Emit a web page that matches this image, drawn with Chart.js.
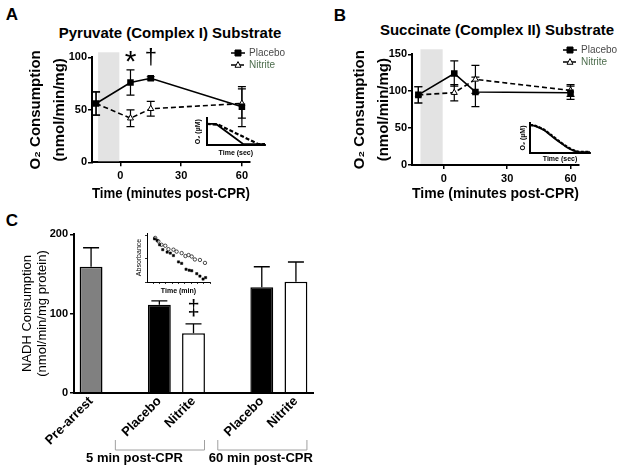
<!DOCTYPE html>
<html>
<head>
<meta charset="utf-8">
<title>O2 and NADH consumption after CPR</title>
<script src="https://cdn.jsdelivr.net/npm/chart.js@4.4.1/dist/chart.umd.min.js"></script>
<style>
  body { margin: 0; width: 624px; height: 471px; position: relative; overflow: hidden; background: #fff;
         font-family: "Liberation Sans", Arial, sans-serif; }
  canvas { position: absolute; }
  .txt { position: absolute; transform: translate(-50%, -50%); white-space: nowrap; line-height: 1;
         font-weight: bold; color: #000; }
</style>
</head>
<body>
<div class="txt" style="left:12px;top:14px;font-size:17px">A</div>
<div class="txt" style="left:340px;top:15px;font-size:17px">B</div>
<div class="txt" style="left:12px;top:220px;font-size:17px">C</div>
<div class="txt" style="left:170px;top:32px;font-size:15px">Pyruvate (Complex I) Substrate</div>
<div class="txt" style="left:497px;top:29px;font-size:15px">Succinate (Complex II) Substrate</div>

<canvas id="chartA" width="300" height="205" style="left:0;top:0"></canvas>
<canvas id="chartB" width="294" height="205" style="left:330px;top:0"></canvas>
<canvas id="chartC" width="330" height="271" style="left:0;top:200px"></canvas>
<canvas id="insetA" width="82" height="46" style="left:188px;top:112px"></canvas>
<canvas id="insetB" width="82" height="48" style="left:512px;top:117px"></canvas>
<canvas id="insetC" width="95" height="76" style="left:122px;top:222px"></canvas>

<script>
Chart.defaults.font.family = '"Liberation Sans", Arial, sans-serif';
Chart.defaults.color = '#000';
Chart.defaults.animation = false;

/*********************************************/
/*   data: panels A and B (O2 consumption)   */
/*********************************************/
const timePoints = [-12, 5, 15, 60];   // minutes post-CPR (first one is pre-arrest)
const timeTicks = [0, 30, 60];
const arrestWindow = [-11, -0.5];      // shaded arrest period

const pyruvatePlacebo = [56, 76, 80, 53];
const pyruvatePlaceboErr = [11, 12, 1.5, 19];
const pyruvateNitrite = [56, 42, 51, 56];
const pyruvateNitriteErr = [11, 8, 7, 14];
const pyruvateTicks = [0, 50, 100];
const pyruvateMarks = ['*', '\u2020'];
const pyruvateMarkTimes = [5, 15];

const succinatePlacebo = [95, 124, 99, 98];
const succinatePlaceboErr = [11, 17, 20, 9];
const succinateNitrite = [95, 98, 116, 101];
const succinateNitriteErr = [11, 11, 19, 8];
const succinateTicks = [0, 50, 100, 150];

/*********************************************/
/*   data: panel C (NADH consumption)        */
/*********************************************/
const nadhLabels = ['Pre-arrest', '', 'Placebo', 'Nitrite', '', 'Placebo', 'Nitrite'];
const nadhValues = [159, null, 111, 75, null, 133, 140];
const nadhErr = [24, null, 5, 12, null, 26, 25];
const nadhTicks = [0, 100, 200];
const nadhGroups = ['5 min post-CPR', '60 min post-CPR'];
const nadhGroupSpans = [[2, 3], [5, 6]];

/*********************************************/
/*   data: example traces in the insets      */
/*********************************************/
const traceAPlaceboX = [0, 1.6, 6.3, 10];
const traceAPlaceboY = [0.79, 0.79, 0.03, 0.03];
const traceANitriteX = [0, 2.0, 8.9, 10];
const traceANitriteY = [0.79, 0.76, 0.03, 0.03];

const traceBX = [0, 1.1, 2.3, 3.4, 4.8, 6.2, 7.3, 8.2, 10];
const traceBPlacebo = [0.94, 0.89, 0.77, 0.60, 0.38, 0.18, 0.07, 0.02, 0.02];
const traceBNitrite = [0.95, 0.90, 0.79, 0.62, 0.40, 0.20, 0.08, 0.03, 0.03];

const absPlaceboX = [1.2, 1.6, 2.0, 2.5, 3.2, 3.7, 4.2, 5.0, 5.5, 6.2, 6.7, 7.1, 7.9, 8.4, 8.9, 9.3];
const absPlaceboY = [0.88, 0.85, 0.76, 0.66, 0.61, 0.59, 0.54, 0.41, 0.38, 0.26, 0.24, 0.23, 0.17, 0.12, 0.06, 0.09];
const absNitriteX = [1.3, 1.8, 2.3, 2.9, 3.4, 4.2, 4.7, 5.5, 6.1, 6.6, 7.1, 7.6, 8.4, 9.2];
const absNitriteY = [0.90, 0.83, 0.76, 0.74, 0.67, 0.66, 0.62, 0.59, 0.53, 0.55, 0.52, 0.46, 0.45, 0.39];

const xy = (xs, ys) => xs.map((x, i) => ({ x: x, y: ys[i] }));
const FONT = '"Liberation Sans", Arial, sans-serif';

function drawMarker(ctx, style, x, y, r, fill) {
  ctx.beginPath();
  if (style === 'rect') {
    ctx.rect(x - r, y - r, 2 * r, 2 * r);
  } else if (style === 'triangle') {
    ctx.moveTo(x, y - r * 1.15);
    ctx.lineTo(x + r, y + r * 0.75);
    ctx.lineTo(x - r, y + r * 0.75);
    ctx.closePath();
  } else {
    ctx.arc(x, y, r, 0, Math.PI * 2);
  }
  ctx.fillStyle = fill;
  ctx.fill();
  ctx.lineWidth = 1;
  ctx.strokeStyle = '#000';
  ctx.stroke();
}

/*********************************************/
/*                 plugins                   */
/*********************************************/

// grey band for the arrest period
const shade = {
  id: 'shade',
  beforeDatasetsDraw(chart, args, o) {
    if (!o.range) return;
    const { ctx, chartArea, scales } = chart;
    const x0 = scales.x.getPixelForValue(o.range[0]);
    const x1 = scales.x.getPixelForValue(o.range[1]);
    ctx.save();
    ctx.fillStyle = '#e3e3e3';
    ctx.fillRect(x0, chartArea.top - 5, x1 - x0, chartArea.bottom - chartArea.top + 4);
    ctx.restore();
  }
};

// SEM bars, read from dataset.errors
const errorBars = {
  id: 'errorBars',
  beforeDatasetsDraw(chart, args, o) {
    const { ctx, scales } = chart;
    chart.data.datasets.forEach((ds, i) => {
      if (!ds.errors) return;
      const meta = chart.getDatasetMeta(i);
      ctx.save();
      ctx.strokeStyle = '#000';
      ctx.lineWidth = o.width || 1.2;
      meta.data.forEach((el, j) => {
        const raw = ds.data[j];
        const e = ds.errors[j];
        if (raw == null || e == null) return;
        const v = typeof raw === 'object' ? raw.y : raw;
        const x = el.x;
        const top = scales.y.getPixelForValue(v + e);
        const bot = scales.y.getPixelForValue(o.upOnly ? v : v - e);
        ctx.beginPath();
        ctx.moveTo(x, top);
        ctx.lineTo(x, bot);
        ctx.moveTo(x - o.cap, top);
        ctx.lineTo(x + o.cap, top);
        if (!o.upOnly) {
          ctx.moveTo(x - o.cap, bot);
          ctx.lineTo(x + o.cap, bot);
        }
        ctx.stroke();
      });
      ctx.restore();
    });
  }
};

// significance symbols (*, dagger, double dagger)
const marks = {
  id: 'marks',
  afterDatasetsDraw(chart, args, o) {
    if (!o.items) return;
    const { ctx, scales } = chart;
    ctx.save();
    ctx.fillStyle = '#000';
    ctx.textAlign = 'center';
    ctx.textBaseline = 'alphabetic';
    o.items.forEach(m => {
      ctx.font = m.font;
      ctx.fillText(m.text, scales.x.getPixelForValue(m.x), scales.y.getPixelForValue(m.y) + m.dy);
    });
    ctx.restore();
  }
};

// Prism style legend: short line + marker + label
const legendBox = {
  id: 'legendBox',
  afterDraw(chart, args, o) {
    if (!o.x) return;
    const ctx = chart.ctx;
    chart.data.datasets.forEach((ds, i) => {
      const y = o.y + i * o.gap;
      ctx.save();
      ctx.strokeStyle = '#000';
      ctx.lineWidth = 1.5;
      ctx.setLineDash(ds.borderDash || []);
      ctx.beginPath();
      ctx.moveTo(o.x - 7, y);
      ctx.lineTo(o.x + 7, y);
      ctx.stroke();
      ctx.setLineDash([]);
      drawMarker(ctx, ds.pointStyle, o.x, y, 3, ds.pointBackgroundColor);
      ctx.fillStyle = o.colors[i];
      ctx.font = '10px ' + FONT;
      ctx.textBaseline = 'middle';
      ctx.fillText(ds.label, o.x + 11, y);
      ctx.restore();
    });
  }
};

// brackets + group names under panel C
const groupBrackets = {
  id: 'groupBrackets',
  afterDraw(chart, args, o) {
    if (!o.groups) return;
    const { ctx, scales } = chart;
    ctx.save();
    o.spans.forEach((span, k) => {
      const x0 = scales.x.getPixelForValue(span[0]) - o.left;
      const x1 = scales.x.getPixelForValue(span[1]) + o.right;
      ctx.strokeStyle = '#a0a0a0';
      ctx.lineWidth = 1;
      ctx.beginPath();
      ctx.moveTo(x0, o.top);
      ctx.lineTo(x0, o.bottom);
      ctx.lineTo(x1, o.bottom);
      ctx.lineTo(x1, o.top);
      ctx.stroke();
      ctx.fillStyle = '#000';
      ctx.font = 'bold 13px ' + FONT;
      ctx.textAlign = 'center';
      ctx.textBaseline = 'middle';
      ctx.fillText(o.groups[k], (x0 + x1) / 2 + o.shift[k], o.textY);
    });
    ctx.restore();
  }
};

/*********************************************/
/*          panels A and B (lines)           */
/*********************************************/
function timeCourse(id, c) {
  const axisGrid = { drawOnChartArea: false, drawTicks: true, tickLength: 4, color: '#000', lineWidth: 1.5 };
  const axisBorder = { display: true, color: '#000', width: 2 };
  return new Chart(document.getElementById(id), {
    type: 'line',
    data: {
      datasets: [
        {
          label: 'Placebo',
          data: xy(timePoints, c.placebo),
          errors: c.placeboErr,
          borderColor: '#000',
          borderWidth: 1.6,
          pointStyle: 'rect',
          pointRadius: 3.5,
          pointBackgroundColor: '#000',
          pointBorderColor: '#000'
        },
        {
          label: 'Nitrite',
          data: xy(timePoints, c.nitrite),
          errors: c.nitriteErr,
          borderColor: '#000',
          borderWidth: 1.6,
          borderDash: [5, 3],
          pointStyle: 'triangle',
          pointRadius: 3.5,
          pointBackgroundColor: '#fff',
          pointBorderColor: '#000',
          pointBorderWidth: 1
        }
      ]
    },
    options: {
      responsive: false,
      devicePixelRatio: 1,
      layout: { padding: { top: c.top, right: c.right, left: 0, bottom: 0 } },
      plugins: {
        legend: { display: false },
        tooltip: { enabled: false },
        shade: { range: arrestWindow },
        errorBars: { cap: 4 },
        marks: { items: c.marks },
        legendBox: { x: c.legendX, y: c.legendY, gap: 12, colors: ['#4a4a4a', '#4e6e4e'] }
      },
      scales: {
        x: {
          type: 'linear',
          min: c.xMin,
          max: 64,
          afterBuildTicks: s => { s.ticks = timeTicks.map(v => ({ value: v })); },
          afterFit: s => { s.height = c.xHeight; },
          grid: axisGrid,
          border: axisBorder,
          ticks: { font: { size: 11, weight: 'bold' }, padding: 3 },
          title: { display: true, text: 'Time (minutes post-CPR)', font: { size: 15, weight: 'bold' },
                   padding: { top: 0, bottom: 2.5 } }
        },
        y: {
          min: 0,
          max: c.yMax,
          afterBuildTicks: s => { s.ticks = c.yTicks.map(v => ({ value: v })); },
          afterFit: s => { s.width = c.yWidth; },
          grid: axisGrid,
          border: axisBorder,
          ticks: { font: { size: 11, weight: 'bold' }, padding: 1 },
          title: { display: true, text: ['O\u2082 Consumption', '(nmol/min/mg)'],
                   font: { size: 15, weight: 'bold', lineHeight: 1.6 },
                   padding: { top: c.yTitlePad, bottom: 0 } }
        }
      }
    },
    plugins: [shade, errorBars, marks, legendBox]
  });
}

timeCourse('chartA', {
  placebo: pyruvatePlacebo, placeboErr: pyruvatePlaceboErr,
  nitrite: pyruvateNitrite, nitriteErr: pyruvateNitriteErr,
  yMax: 100, yTicks: pyruvateTicks, xMin: -14,
  top: 57.3, right: 50, xHeight: 42.7, yWidth: 92, yTitlePad: 23.5,
  legendX: 238, legendY: 53,
  marks: [
    { text: pyruvateMarks[0], x: pyruvateMarkTimes[0], y: 100, dy: 14, font: '30px ' + FONT },
    { text: pyruvateMarks[1], x: pyruvateMarkTimes[1], y: 100, dy: 6.5, font: '22px ' + FONT }
  ]
});

timeCourse('chartB', {
  placebo: succinatePlacebo, placeboErr: succinatePlaceboErr,
  nitrite: succinateNitrite, nitriteErr: succinateNitriteErr,
  yMax: 150, yTicks: succinateTicks, xMin: -15,
  top: 54.3, right: 45, xHeight: 40, yWidth: 82, yTitlePad: 18,
  legendX: 240, legendY: 50,
  marks: []
});

/*********************************************/
/*            panel C (bar chart)            */
/*********************************************/
new Chart(document.getElementById('chartC'), {
  type: 'bar',
  data: {
    labels: nadhLabels,
    datasets: [{
      data: nadhValues,
      errors: nadhErr,
      backgroundColor: ['#808080', '#fff', '#000', '#fff', '#fff', '#000', '#fff'],
      borderColor: '#000',
      borderWidth: 1.5,
      barPercentage: 0.67,
      categoryPercentage: 1
    }]
  },
  options: {
    responsive: false,
    devicePixelRatio: 1,
    layout: { padding: { top: 34.3, right: 17, left: 0, bottom: 0 } },
    plugins: {
      legend: { display: false },
      tooltip: { enabled: false },
      errorBars: { cap: 8, upOnly: true, width: 1.3 },
      marks: { items: [{ text: '\u2021', x: 3, y: 106, dy: 6, font: '22px ' + FONT }] },
      groupBrackets: {
        groups: nadhGroups, spans: nadhGroupSpans,
        left: 44, right: 11, top: 240, bottom: 250, textY: 258, shift: [-25.5, -1.5]
      }
    },
    scales: {
      x: {
        afterFit: s => { s.height = 78.3; },
        grid: { display: false },
        border: { display: true, color: '#000', width: 2 },
        ticks: { autoSkip: false, minRotation: 45, maxRotation: 45, padding: -7,
                 font: { size: 13, weight: 'bold' } }
      },
      y: {
        min: 0,
        max: 200,
        afterBuildTicks: s => { s.ticks = nadhTicks.map(v => ({ value: v })); },
        afterFit: s => { s.width = 74; },
        grid: { drawOnChartArea: false, drawTicks: true, tickLength: 4, color: '#000', lineWidth: 1.5 },
        border: { display: true, color: '#000', width: 2 },
        ticks: { font: { size: 11, weight: 'bold' }, padding: 2 },
        title: { display: true, text: ['NADH Consumption', '(nmol/min/mg protein)'],
                 font: { size: 13, lineHeight: 1.16 }, padding: { top: 20, bottom: 0 } }
      }
    }
  },
  plugins: [errorBars, marks, groupBrackets]
});

/*********************************************/
/*                  insets                   */
/*********************************************/
function inset(id, type, datasets, o) {
  return new Chart(document.getElementById(id), {
    type: type,
    data: { datasets: datasets },
    options: {
      responsive: false,
      devicePixelRatio: 1,
      layout: { padding: { top: o.top, right: o.right, left: 0, bottom: 0 } },
      plugins: { legend: { display: false }, tooltip: { enabled: false } },
      scales: {
        x: {
          type: 'linear', min: 0, max: 10,
          afterBuildTicks: s => { s.ticks = (o.xTicks || []).map(v => ({ value: v })); },
          afterFit: s => { s.height = o.xHeight; },
          ticks: { display: false },
          grid: { display: !!o.xTicks, drawOnChartArea: false, tickLength: 2, color: '#000', lineWidth: 0.8 },
          border: { display: true, color: '#000', width: o.axisWidth },
          title: { display: true, text: o.xTitle, font: { size: 7, weight: 'bold', lineHeight: 1.2 },
                   padding: { top: 0, bottom: o.xTitlePad } }
        },
        y: {
          min: 0, max: 1,
          afterBuildTicks: s => { s.ticks = (o.yTicks || []).map(v => ({ value: v })); },
          afterFit: s => { s.width = o.yWidth; },
          ticks: { display: false },
          grid: { display: !!o.yTicks, drawOnChartArea: false, tickLength: 2, color: '#000', lineWidth: 0.8 },
          border: { display: true, color: '#000', width: o.axisWidth },
          title: { display: true, text: o.yTitle, font: { size: 7, weight: o.yWeight, lineHeight: 1.2 },
                   padding: { top: o.yTitlePad, bottom: 0 } }
        }
      }
    }
  });
}

inset('insetA', 'line', [
  { data: xy(traceAPlaceboX, traceAPlaceboY), borderColor: '#000', borderWidth: 1.8, pointRadius: 0 },
  { data: xy(traceANitriteX, traceANitriteY), borderColor: '#000', borderWidth: 2.2, borderDash: [4, 2], pointRadius: 0 }
], { top: 6.3, right: 5, xHeight: 13, yWidth: 18.7, axisWidth: 2, xTitle: 'Time (sec)', xTitlePad: 1,
     yTitle: 'O\u2082 (\u00b5M)', yWeight: 'bold', yTitlePad: 5.8 });

inset('insetB', 'line', [
  { data: xy(traceBX, traceBPlacebo), borderColor: '#000', borderWidth: 1.8, pointRadius: 0, tension: 0.3 },
  { data: xy(traceBX, traceBNitrite), borderColor: '#000', borderWidth: 2.2, borderDash: [3, 1.5], pointRadius: 0, tension: 0.3 }
], { top: 6.3, right: 4, xHeight: 12.3, yWidth: 18, axisWidth: 2, xTitle: 'Time (sec)', xTitlePad: 2,
     yTitle: 'O\u2082 (\u00b5M)', yWeight: 'bold', yTitlePad: 6.5 });

inset('insetC', 'scatter', [
  { data: xy(absPlaceboX, absPlaceboY), pointStyle: 'rect', pointRadius: 1.6, backgroundColor: '#000', borderColor: '#000', borderWidth: 0.5 },
  { data: xy(absNitriteX, absNitriteY), pointStyle: 'circle', pointRadius: 1.7, backgroundColor: '#fff', borderColor: '#000', borderWidth: 0.7 }
], { top: 11, right: 7, xHeight: 16, yWidth: 25, axisWidth: 1, xTitle: 'Time (min)', xTitlePad: 3,
     yTitle: 'Absorbance', yWeight: 'normal', yTitlePad: 12.8,
     xTicks: [1, 2, 3, 4, 5, 6, 7, 8, 9, 10], yTicks: [0, 0.47, 0.94] });
</script>
</body>
</html>
